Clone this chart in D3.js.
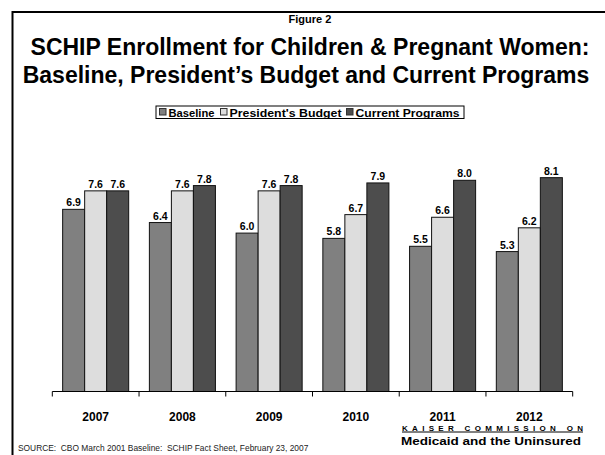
<!DOCTYPE html>
<html>
<head>
<meta charset="utf-8">
<script src="https://cdn.jsdelivr.net/npm/d3@7"></script>
<style>
  body { margin: 0; background: #fff; }
  svg { display: block; font-family: "Liberation Sans", Arial, sans-serif; }
</style>
</head>
<body>
<svg id="chart" width="605" height="455"></svg>
<script>
// datos del grafico
const years = ["2007", "2008", "2009", "2010", "2011", "2012"];
const seriesNames = ["Baseline", "President's Budget", "Current Programs"];
const baseline = [6.9, 6.4, 6.0, 5.8, 5.5, 5.3];
const presidentsBudget = [7.6, 7.6, 7.6, 6.7, 6.6, 6.2];
const currentPrograms = [7.6, 7.8, 7.8, 7.9, 8.0, 8.1];
const colors = ["#808080", "#dddddd", "#4d4d4d"];

const valores = [baseline, presidentsBudget, currentPrograms];

const svg = d3.select("#chart");

// marco de la diapositiva (solo arriba e izquierda)
svg.append("path")
    .attr("d", "M12.5,460 L12.5,12 L610,12")
    .attr("fill", "none")
    .attr("stroke", "#000")
    .attr("stroke-width", 2);

// titulos
svg.append("text")
    .attr("x", 310).attr("y", 23)
    .attr("text-anchor", "middle")
    .attr("font-size", 11).attr("font-weight", "bold")
    .text("Figure 2");

svg.append("text")
    .attr("x", 310).attr("y", 55)
    .attr("text-anchor", "middle")
    .attr("font-size", 23).attr("font-weight", "bold")
    .text("SCHIP Enrollment for Children & Pregnant Women:");

svg.append("text")
    .attr("x", 306).attr("y", 83)
    .attr("text-anchor", "middle")
    .attr("font-size", 23).attr("font-weight", "bold")
    .text("Baseline, President\u2019s Budget and Current Programs");

// escalas
const x = d3.scaleBand()
    .domain(years)
    .range([52.3, 572.7]);

const x1 = d3.scaleBand()
    .domain(seriesNames)
    .range([0, x.bandwidth()])
    .paddingInner(0)
    .paddingOuter(0.47);

const y = d3.scaleLinear()
    .domain([0, 10])
    .range([391.5, 127.5]);

// barras
const datos = [];
years.forEach((yr, i) => {
    seriesNames.forEach((s, j) => {
        datos.push({ year: yr, serie: s, valor: valores[j][i], color: colors[j] });
    });
});

svg.append("g")
    .selectAll("rect")
    .data(datos)
    .join("rect")
    .attr("x", d => x(d.year) + x1(d.serie))
    .attr("y", d => y(d.valor))
    .attr("width", x1.bandwidth())
    .attr("height", d => y(0) - y(d.valor))
    .attr("fill", d => d.color)
    .attr("stroke", "#111")
    .attr("stroke-width", 1);

// etiquetas de valores
svg.append("g")
    .selectAll("text")
    .data(datos)
    .join("text")
    .attr("x", d => x(d.year) + x1(d.serie) + x1.bandwidth() / 2)
    .attr("y", d => y(d.valor) - 3)
    .attr("text-anchor", "middle")
    .attr("font-size", 10.5).attr("font-weight", "bold")
    .text(d => d.valor.toFixed(1));

// eje x
const xAxis = svg.append("g")
    .attr("transform", `translate(0,${y(0)})`)
    .call(d3.axisBottom(x).tickSize(0).tickPadding(21));
xAxis.select(".domain").attr("stroke", "#000").attr("d", `M${x.range()[0]},0H${x.range()[1]}`);
xAxis.selectAll("text")
    .attr("font-size", 12).attr("font-weight", "bold")
    .attr("font-family", "Liberation Sans, Arial, sans-serif")
    .attr("fill", "#000");

// marcas entre categorias
const bordes = years.map(d => x(d)).concat([x.range()[1]]);
xAxis.selectAll(".sep")
    .data(bordes)
    .join("line")
    .attr("class", "sep")
    .attr("x1", d => d).attr("x2", d => d)
    .attr("y1", 0).attr("y2", 5)
    .attr("stroke", "#000");

// leyenda
const leg = svg.append("g");
leg.append("rect")
    .attr("x", 156).attr("y", 106)
    .attr("width", 308).attr("height", 12.5)
    .attr("fill", "#fff").attr("stroke", "#000");

const legX = [159.5, 220.5, 346.5];
const legW = [46, 112, 104];
seriesNames.forEach((s, j) => {
    leg.append("rect")
        .attr("x", legX[j]).attr("y", 108.5)
        .attr("width", 6.5).attr("height", 6.5)
        .attr("fill", colors[j]).attr("stroke", "#333");
    leg.append("text")
        .attr("x", legX[j] + 9).attr("y", 116.5)
        .attr("font-size", 11).attr("font-weight", "bold")
        .attr("textLength", legW[j]).attr("lengthAdjust", "spacingAndGlyphs")
        .text(s);
});

// logo Kaiser
svg.append("text")
    .attr("x", 402).attr("y", 430.5)
    .attr("font-size", 8).attr("font-weight", "bold")
    .attr("textLength", 181).attr("lengthAdjust", "spacing")
    .text("KAISER COMMISSION ON");
svg.append("line")
    .attr("x1", 402).attr("x2", 583)
    .attr("y1", 432).attr("y2", 432)
    .attr("stroke", "#000").attr("stroke-width", 1);
svg.append("text")
    .attr("x", 401).attr("y", 445)
    .attr("font-size", 11.5).attr("font-weight", "bold")
    .attr("textLength", 180).attr("lengthAdjust", "spacingAndGlyphs")
    .text("Medicaid and the Uninsured");

// fuente
svg.append("text")
    .attr("x", 18).attr("y", 451)
    .attr("font-size", 8.4)
    .attr("fill", "#222")
    .text("SOURCE:  CBO March 2001 Baseline:  SCHIP Fact Sheet, February 23, 2007")
    .attr("xml:space", "preserve")
    .style("white-space", "pre");
</script>
</body>
</html>
